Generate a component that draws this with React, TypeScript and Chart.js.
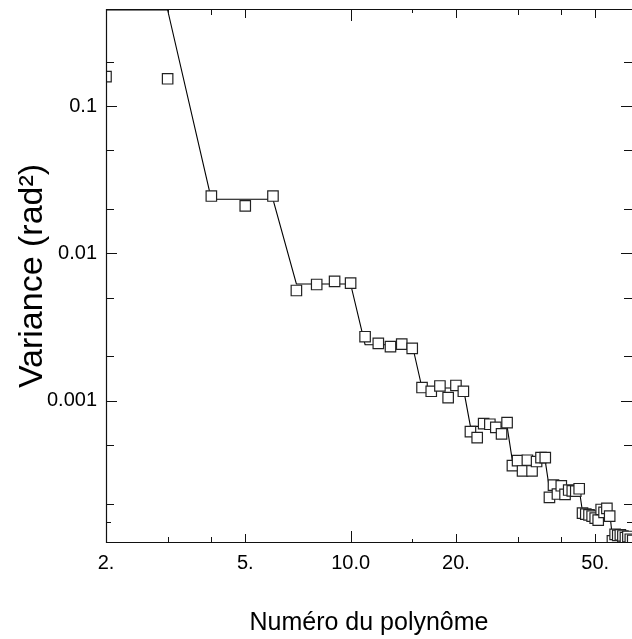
import React, { useEffect, useRef } from "react";
import { Chart, registerables } from "chart.js";

Chart.register(...registerables);

// Zernike mode number (Noll index)
const modes: number[] = [
  2, 3, 4, 5, 6, 7, 8, 9, 10, 11, 12, 13, 14, 15, 16, 17, 18, 19, 20, 21,
  22, 23, 24, 25, 26, 27, 28, 29, 30, 31, 32, 33, 34, 35, 36, 37, 38, 39, 40,
  41, 42, 43, 44, 45, 46, 47, 48, 49, 50, 51, 52, 53, 54, 55, 56, 57, 58, 59,
  60, 61, 62, 63, 64,
];

// measured variance (rad^2) for each mode
const measuredVariance: number[] = [
  0.158, 0.153, 0.0245, 0.021, 0.0245, 0.0056, 0.00615, 0.00645, 0.00628,
  0.00272, 0.00245, 0.00233, 0.00242, 0.00227,
  0.00123, 0.00116, 0.00126, 0.00105, 0.00127, 0.00116,
  0.000617, 0.000562, 0.0007, 0.000693, 0.00066, 0.000596, 0.000711,
  0.000363, 0.000393, 0.000334, 0.000395, 0.000334, 0.000387, 0.000411, 0.000411,
  0.000221, 0.000268, 0.000233, 0.000265, 0.000232, 0.000248, 0.000245, 0.000244, 0.000253,
  0.000173, 0.00017, 0.000168, 0.000165, 0.00016, 0.000155, 0.000183, 0.000175, 0.000186, 0.000165,
  0.000112, 0.000124, 0.000122, 0.000123, 0.000121, 0.000118, 0.00012, 0.000115, 0.000113,
];

// theoretical (Kolmogorov) variance per mode, one value per radial order n = 1..10
const radialOrders: number[] = [1, 2, 3, 4, 5, 6, 7, 8, 9, 10];
const orderVariance: number[] = [
  0.448, 0.0233, 0.0062, 0.0024, 0.00122, 0.00067, 0.00039, 0.000252, 0.000176, 0.000118,
];

const xTickValues: number[] = [2, 3, 4, 5, 10, 15, 20, 30, 40, 50];
const xTickLabels: string[] = ["2.", "", "", "5.", "10.0", "", "20.", "", "", "50."];
const yTickValues: number[] = [
  0.00015, 0.0002, 0.0005, 0.001, 0.002, 0.005, 0.01, 0.02, 0.05, 0.1, 0.2,
];
const yTickLabels: string[] = ["", "", "", "0.001", "", "", "0.01", "", "", "0.1", ""];

const X_MIN = 2;
const X_MAX = 63.7;
const Y_MIN = 1.084e-4;
const Y_MAX = 0.455;

const FONT = "'Liberation Sans', Arial, sans-serif";

const measuredPoints = modes.map((m, i) => ({ x: m, y: measuredVariance[i] }));
const theoryPoints: { x: number; y: number }[] = [];
radialOrders.forEach((n, i) => {
  const first = (n * (n + 1)) / 2 + 1;
  const last = ((n + 1) * (n + 2)) / 2;
  theoryPoints.push({ x: first, y: orderVariance[i] });
  theoryPoints.push({ x: last, y: orderVariance[i] });
});

const inwardTicks = {
  id: "inwardTicks",
  afterDraw(chart: any) {
    const { ctx, chartArea: a, scales } = chart;
    const xs = scales.x;
    const ys = scales.y;
    ctx.save();
    ctx.strokeStyle = "#111";
    ctx.lineWidth = 1.2;
    ctx.beginPath();
    ctx.moveTo(a.left + 0.5, a.top);
    ctx.lineTo(a.left + 0.5, a.bottom);
    ctx.moveTo(a.left, a.bottom - 0.5);
    ctx.lineTo(a.right, a.bottom - 0.5);
    ctx.moveTo(a.left, a.top + 0.5);
    ctx.lineTo(a.right, a.top + 0.5);
    ctx.stroke();

    ctx.lineWidth = 1;
    ctx.beginPath();
    xTickValues.forEach((v, i) => {
      const px = Math.round(xs.getPixelForValue(v)) + 0.5;
      let len = xTickLabels[i] ? 9 : 6;
      if (v === 10) len = 12;
      if (v === 15) len = 4;
      ctx.moveTo(px, a.bottom);
      ctx.lineTo(px, a.bottom - len);
      ctx.moveTo(px, a.top);
      ctx.lineTo(px, a.top + len);
    });
    yTickValues.forEach((v, i) => {
      const py = Math.round(ys.getPixelForValue(v)) + 0.5;
      const len = yTickLabels[i] ? 11 : v === 0.00015 ? 5 : 8;
      ctx.moveTo(a.left, py);
      ctx.lineTo(a.left + len, py);
      ctx.moveTo(a.right, py);
      ctx.lineTo(a.right - len, py);
    });
    ctx.stroke();
    ctx.restore();
  },
};

export default function App() {
  const ref = useRef<HTMLCanvasElement | null>(null);

  useEffect(() => {
    if (!ref.current) return;
    const chart = new Chart(ref.current, {
      type: "scatter",
      data: {
        datasets: [
          {
            label: "mesure",
            data: measuredPoints,
            showLine: false,
            pointStyle: "rect",
            pointRadius: 7.4,
            pointBorderWidth: 1.2,
            pointBorderColor: "#222",
            pointBackgroundColor: "#fff",
            clip: 0,
          },
          {
            label: "théorie",
            data: theoryPoints,
            showLine: true,
            borderColor: "#000",
            borderWidth: 1.1,
            pointRadius: 0,
            tension: 0,
            clip: 0,
          },
        ],
      },
      options: {
        animation: false,
        responsive: false,
        events: [],
        layout: { autoPadding: false, padding: { top: 9, right: 0, left: 0, bottom: 0 } },
        plugins: {
          legend: { display: false },
          tooltip: { enabled: false },
        },
        scales: {
          x: {
            type: "logarithmic",
            min: X_MIN,
            max: X_MAX,
            grid: { display: false, drawTicks: false },
            border: { display: false },
            afterBuildTicks: (scale: any) => {
              scale.ticks = xTickValues.map((v) => ({ value: v }));
            },
            afterFit: (scale: any) => {
              scale.height = 96;
              scale.paddingLeft = 0;
              scale.paddingRight = 0;
            },
            ticks: {
              autoSkip: false,
              maxRotation: 0,
              minRotation: 0,
              padding: 8,
              color: "#000",
              font: { family: FONT, size: 20 },
              callback: (_v: any, i: number) => xTickLabels[i],
            },
            title: {
              display: true,
              text: "Numéro du polynôme",
              color: "#000",
              font: { family: FONT, size: 25 },
              padding: { top: 0, bottom: 1 },
            },
          },
          y: {
            type: "logarithmic",
            min: Y_MIN,
            max: Y_MAX,
            grid: { display: false, drawTicks: false },
            border: { display: false },
            afterBuildTicks: (scale: any) => {
              scale.ticks = yTickValues.map((v) => ({ value: v }));
            },
            afterFit: (scale: any) => {
              scale.width = 106;
              scale.paddingTop = 0;
              scale.paddingBottom = 0;
            },
            ticks: {
              autoSkip: false,
              padding: 9,
              color: "#000",
              font: { family: FONT, size: 20 },
              callback: (_v: any, i: number) => yTickLabels[i],
            },
            title: {
              display: true,
              text: "Variance (rad²)",
              color: "#000",
              font: { family: FONT, size: 34 },
              padding: { top: 12, bottom: 0 },
            },
          },
        },
      },
      plugins: [inwardTicks],
    });
    return () => chart.destroy();
  }, []);

  return (
    <div style={{ position: "fixed", left: 0, top: 0, width: 632, height: 639, background: "#fff" }}>
      <canvas ref={ref} width={632} height={639} style={{ display: "block" }} />
    </div>
  );
}
